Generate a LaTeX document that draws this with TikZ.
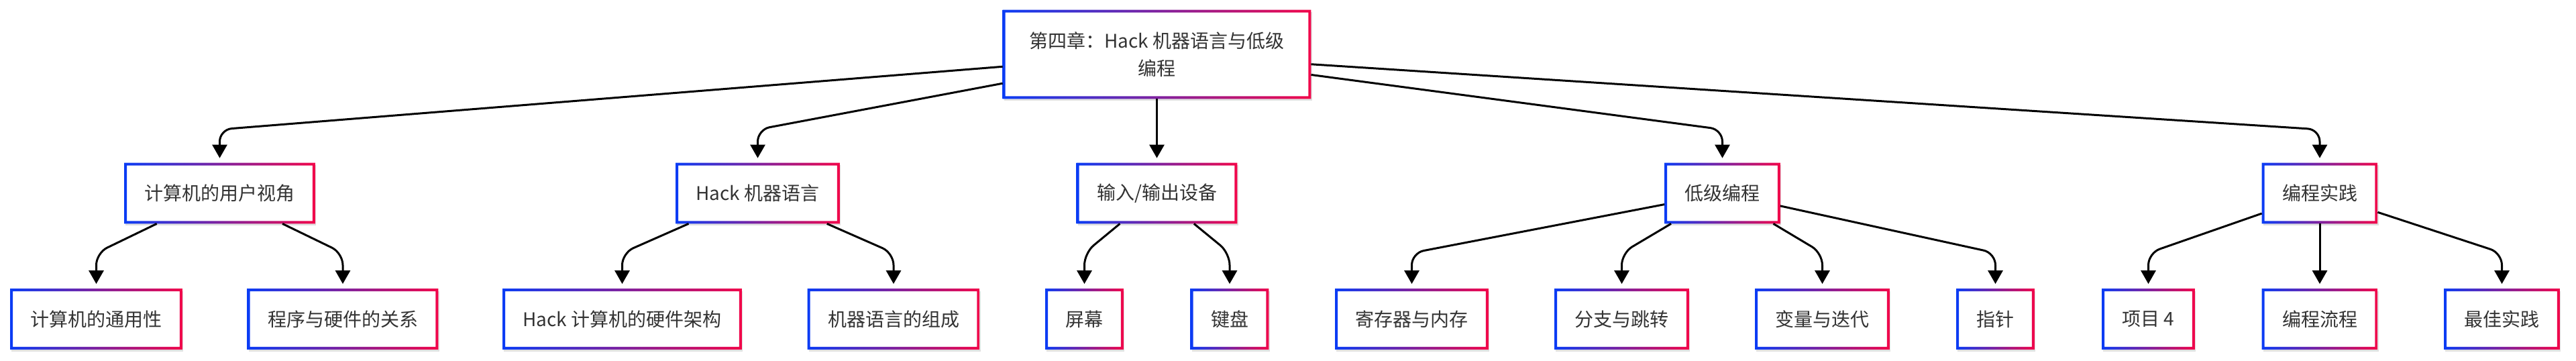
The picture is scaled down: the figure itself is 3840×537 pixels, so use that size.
\documentclass[tikz,border=0pt]{standalone}
\usepackage{fontspec}
\setmainfont{Noto Sans CJK SC}
\usepackage{xcolor}
\usepackage{tikz}
\usetikzlibrary{arrows.meta,
                calc,
                shadows}
\definecolor{cblue}{HTML}{0A3CF5}
\definecolor{cred}{HTML}{F2064A}
\definecolor{txtgray}{HTML}{333333}
\tikzset{
  box/.style={rectangle, fill=white, text=txtgray,
    font=\fontsize{14}{20.5}\selectfont, inner xsep=15pt, inner ysep=0pt, minimum height=45pt,
    drop shadow={shadow xshift=0.8pt, shadow yshift=-1.5pt, opacity=0.12, fill=black}},
  ring/.style={left color=cblue, right color=cred, even odd rule},
  arr/.style={line width=1.5pt, -{Triangle[length=10pt,width=11pt]}, rounded corners=9pt, shorten >=3.5pt}
}

\begin{document}
\begin{tikzpicture}[x=0.5pt, y=-0.5pt]
\useasboundingbox (0,0) rectangle (3840,537);
\node[box, align=center, minimum width=229.5pt, minimum height=66pt] (root) at (1724.5,81) {第四章：Hack 机器语言与低级\\编程};

\foreach \n/\x/\t in {userview/327.5/计算机的用户视角, hacklang/1129.5/Hack 机器语言,
    iodev/1724.5/{输入/输出设备}, lowlevel/2567.5/低级编程, practice/3458/编程实践}
  \node[box] (\n) at (\x,288) {\t};

\foreach \n/\x/\t in {generality/143.5/计算机的通用性, proghw/511/程序与硬件的关系,
    hackarch/927.5/Hack 计算机的硬件架构, langparts/1332/机器语言的组成,
    screen/1616.5/屏幕, keyboard/1833/键盘, regmem/2104.5/寄存器与内存,
    branch/2417.5/分支与跳转, variter/2716.5/变量与迭代, pointer/2974.5/指针,
    project/3202.5/项目 4, flow/3458/编程流程, bestpractice/3729.5/最佳实践}
  \node[box] (\n) at (\x,475.5) {\t};

\foreach \n in {root, userview, hacklang, iodev, lowlevel, practice, generality, proghw,
    hackarch, langparts, screen, keyboard, regmem, branch, variter, pointer, project, flow, bestpractice}
  \shade[ring] (\n.south west) rectangle (\n.north east)
    ([shift={(2pt,2pt)}]\n.south west) rectangle ([shift={(-2pt,-2pt)}]\n.north east);

\foreach \c in {userview, hacklang, iodev, lowlevel, practice}
  \draw[arr] (root) -- (\c |- 0,193) -- (\c);

\foreach \p/\c in {userview/generality, userview/proghw, hacklang/hackarch, hacklang/langparts,
    iodev/screen, iodev/keyboard, lowlevel/regmem, lowlevel/branch, lowlevel/variter,
    lowlevel/pointer, practice/project, practice/flow, practice/bestpractice}
  \draw[arr] (\p) -- (\c |- 0,377) -- (\c);
\end{tikzpicture}
\end{document}
